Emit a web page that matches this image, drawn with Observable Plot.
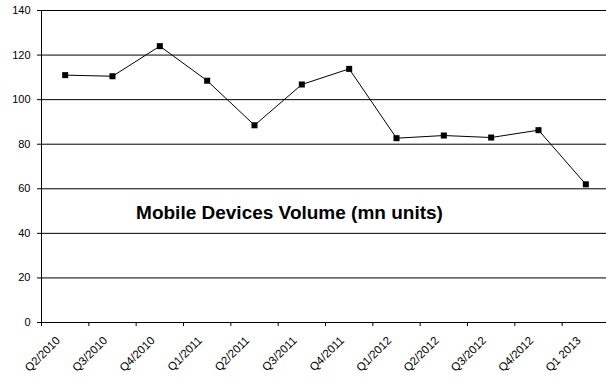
<!DOCTYPE html>
<html>
<head>
<meta charset="utf-8">
<script src="https://cdn.jsdelivr.net/npm/d3@7"></script>
<script src="https://cdn.jsdelivr.net/npm/@observablehq/plot@0.6"></script>
<style>
  html, body { margin: 0; padding: 0; background: #fff; }
  #chart { width: 606px; height: 385px; overflow: hidden; }
</style>
</head>
<body>
<div id="chart"></div>
<script>
const quarters = ["Q2/2010", "Q3/2010", "Q4/2010", "Q1/2011", "Q2/2011", "Q3/2011",
                  "Q4/2011", "Q1/2012", "Q2/2012", "Q3/2012", "Q4/2012", "Q1 2013"];
const volumes = [111, 110.5, 124, 108.5, 88.5, 106.8, 113.8, 82.7, 83.9, 83, 86.3, 62];
const yTicks = [0, 20, 40, 60, 80, 100, 120, 140];
const title = "Mobile Devices Volume (mn units)";

const data = quarters.map((q, i) => ({q, pos: i + 0.5, v: volumes[i]}));
const boundaries = d3.range(quarters.length + 1);
const centers = data.map(d => d.pos);

const chart = Plot.plot({
  width: 606,
  height: 385,
  marginTop: 10,
  marginBottom: 63,
  marginLeft: 41,
  marginRight: -3,
  style: {fontFamily: "'Liberation Sans', Arial, sans-serif", fontSize: "11px", color: "#000", background: "#fff", overflow: "hidden"},
  x: {domain: [0, quarters.length]},
  y: {domain: [0, 140]},
  marks: [
    Plot.ruleY(yTicks.filter(t => t > 0), {stroke: "#000", strokeWidth: 1}),
    Plot.axisY({ticks: yTicks, tickSize: 4, tickPadding: 7, fontSize: 11, label: null}),
    Plot.axisX({ticks: boundaries, tickSize: 4, tickFormat: () => "", label: null}),
    Plot.axisX({ticks: centers, tickSize: 0, tickPadding: 16, tickRotate: -45,
                tickFormat: p => quarters[Math.round(p - 0.5)], fontSize: 11.5, label: null, dx: -7}),
    Plot.ruleX([0], {stroke: "#000", strokeWidth: 1}),
    Plot.ruleY([0], {stroke: "#000", strokeWidth: 1}),
    Plot.line(data, {x: "pos", y: "v", stroke: "#000", strokeWidth: 1}),
    Plot.dot(data, {x: "pos", y: "v", symbol: "square", r: 3.4, fill: "#000", stroke: "none"}),
    Plot.text([title], {frameAnchor: "middle", dx: -36, dy: 46, fontSize: 19, fontWeight: "bold", fill: "#000"})
  ]
});
document.getElementById("chart").appendChild(chart);
</script>
</body>
</html>
